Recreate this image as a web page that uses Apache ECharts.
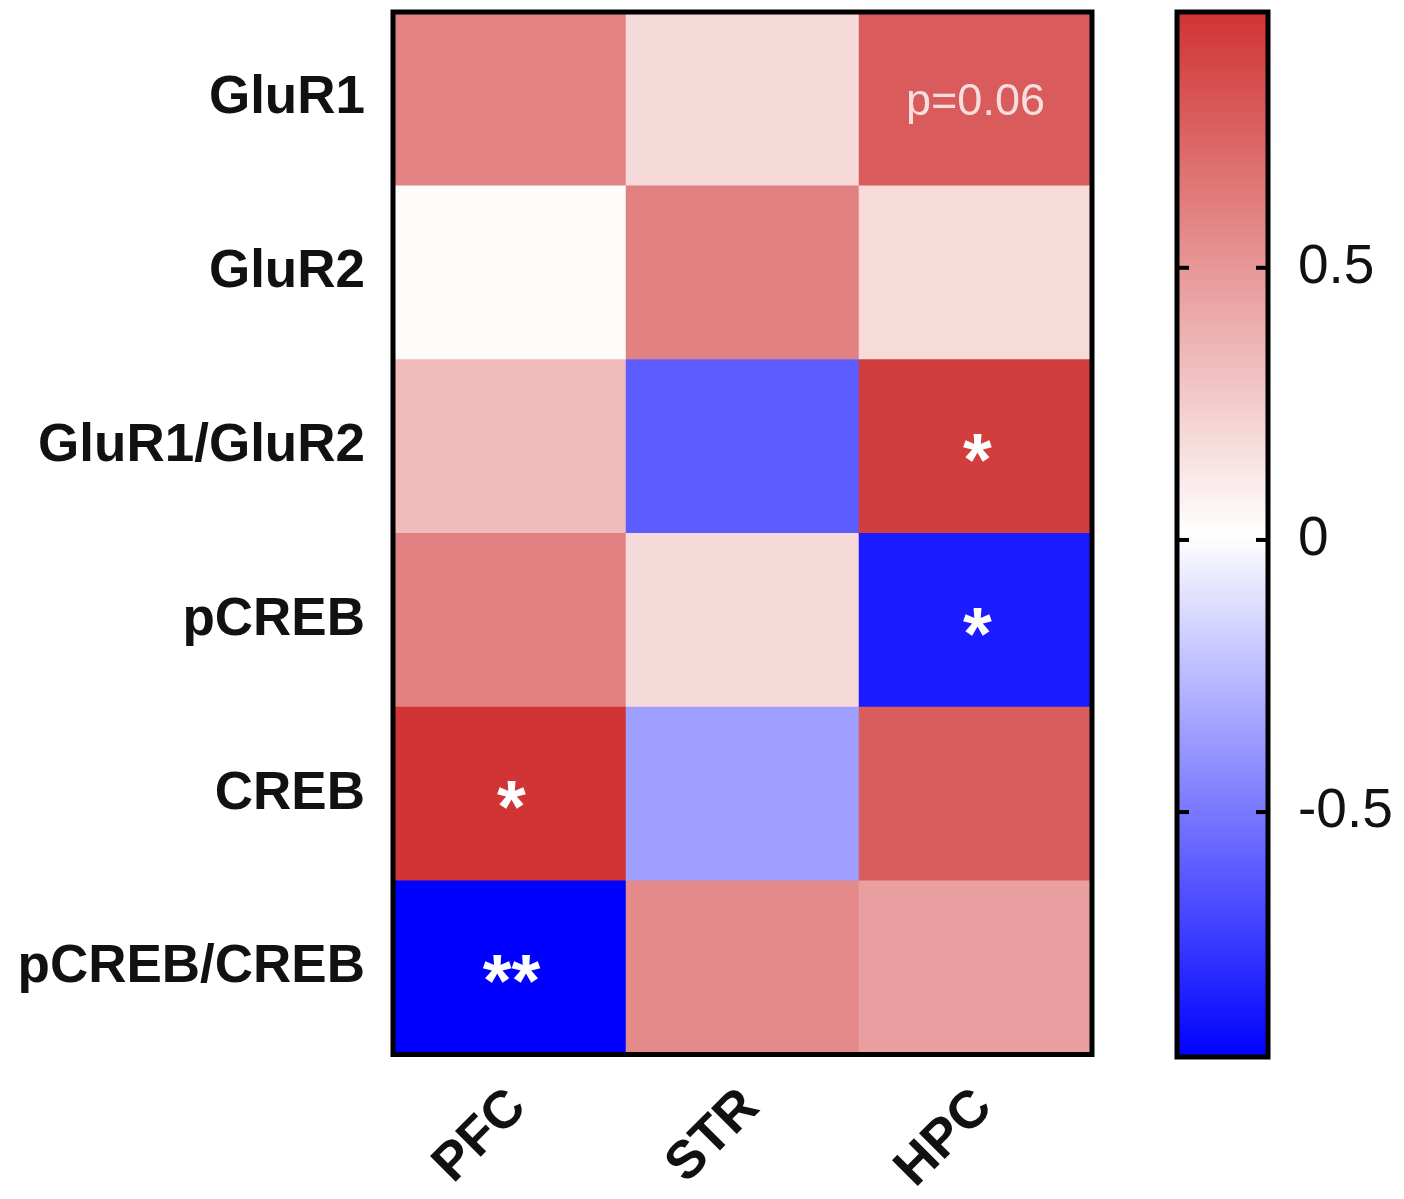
<!DOCTYPE html>
<html>
<head>
<meta charset="utf-8">
<script src="https://cdn.jsdelivr.net/npm/echarts@6.0.0/dist/echarts.min.js"></script>
<style>
html,body{margin:0;padding:0;background:#ffffff;}
#chart{width:1404px;height:1199px;}
</style>
</head>
<body>
<div id="chart"></div>
<script>
// ---- data ----
const regions = ['PFC', 'STR', 'HPC'];
const proteins = ['GluR1', 'GluR2', 'GluR1/GluR2', 'pCREB', 'CREB', 'pCREB/CREB'];
const pfcValues = [0.59, 0.03, 0.33, 0.60, 0.96, -0.95];
const strValues = [0.19, 0.60, -0.60, 0.19, -0.35, 0.56];
const hpcValues = [0.78, 0.18, 0.92, -0.85, 0.77, 0.46];
const pfcNotes = ['', '', '', '', '*', '**'];
const strNotes = ['', '', '', '', '', ''];
const hpcNotes = ['p=0.06', '', '*', '*', '', ''];
const scaleMin = -0.95;
const scaleMax = 0.97;
const scaleTicks = [-0.5, 0, 0.5];

// ---- styling ----
const FONT = "Arial, 'Liberation Sans', Helvetica, sans-serif";
const colorLow = '#0000ff';
const colorMid = '#ffffff';
const colorHigh = '#d03232';
const TICK_LEN = 12;

const valuesByRegion = [pfcValues, strValues, hpcValues];
const notesByRegion = [pfcNotes, strNotes, hpcNotes];

const cells = [];
valuesByRegion.forEach((vals, xi) => {
  vals.forEach((v, yi) => {
    const note = notesByRegion[xi][yi];
    const item = { value: [xi, yi, v] };
    if (note) {
      if (note.startsWith('p')) {
        item.label = { show: true, formatter: note, color: '#f7dede', fontSize: 45,
          fontWeight: 'normal', fontFamily: FONT, offset: [0, 4] };
      } else {
        item.label = { show: true, formatter: note, color: '#ffffff', fontSize: 74,
          fontWeight: 'bold', fontFamily: FONT, offset: [2, 18] };
      }
    } else {
      item.label = { show: false };
    }
    cells.push(item);
  });
});

const chart = echarts.init(document.getElementById('chart'), null, { renderer: 'canvas' });

const option = {
  backgroundColor: '#ffffff',
  animation: false,
  grid: [
    { left: 393, top: 12, width: 699, height: 1043, show: true,
      borderColor: '#000', borderWidth: 5, backgroundColor: 'transparent', z: 3 },
    { left: 1177, top: 12, width: 91, height: 1045, show: true,
      borderColor: '#000', borderWidth: 5, z: 0,
      backgroundColor: { type: 'linear', x: 0, y: 0, x2: 0, y2: 1,
        colorStops: [
          { offset: 0, color: colorHigh },
          { offset: 0.5, color: colorMid },
          { offset: 1, color: colorLow }
        ] } }
  ],
  xAxis: [
    { type: 'category', gridIndex: 0, data: regions,
      axisLine: { show: false }, axisTick: { show: false }, splitLine: { show: false },
      axisLabel: { rotate: 45, margin: 36, fontSize: 53, fontWeight: 'bold',
        verticalAlign: 'top', lineHeight: 24,
        color: '#111', fontFamily: FONT } },
    { type: 'value', gridIndex: 1, min: 0, max: 1, show: false }
  ],
  yAxis: [
    { type: 'category', gridIndex: 0, data: proteins, inverse: true,
      axisLine: { show: false }, axisTick: { show: false }, splitLine: { show: false },
      axisLabel: { margin: 28, fontSize: 53, fontWeight: 'bold', color: '#111', fontFamily: FONT } },
    { type: 'value', gridIndex: 1, position: 'right',
      min: scaleMin, max: scaleMax,
      axisLine: { show: false }, splitLine: { show: false }, axisTick: { show: false },
      axisLabel: { show: true, customValues: scaleTicks, margin: 30, fontSize: 55,
        color: '#111', fontFamily: FONT, formatter: v => String(v) } }
  ],
  visualMap: {
    type: 'continuous', show: false, min: scaleMin, max: scaleMax,
    dimension: 2, seriesIndex: 0,
    inRange: { color: [colorLow, colorMid, colorHigh] }
  },
  series: [
    { type: 'heatmap', xAxisIndex: 0, yAxisIndex: 0, data: cells,
      itemStyle: { borderWidth: 0 },
      emphasis: { disabled: true } },
    { type: 'custom', xAxisIndex: 1, yAxisIndex: 1, z: 5, silent: true,
      data: scaleTicks.map(t => [0, t]),
      encode: { x: 0, y: 1 },
      renderItem: function (params, api) {
        const cs = params.coordSys;
        const y = api.coord([0, api.value(1)])[1];
        const st = { stroke: '#000', lineWidth: 4 };
        return { type: 'group', children: [
          { type: 'line', shape: { x1: cs.x, y1: y, x2: cs.x + TICK_LEN, y2: y }, style: st },
          { type: 'line', shape: { x1: cs.x + cs.width - TICK_LEN, y1: y, x2: cs.x + cs.width, y2: y }, style: st }
        ] };
      } }
  ]
};
chart.setOption(option);
</script>
</body>
</html>
